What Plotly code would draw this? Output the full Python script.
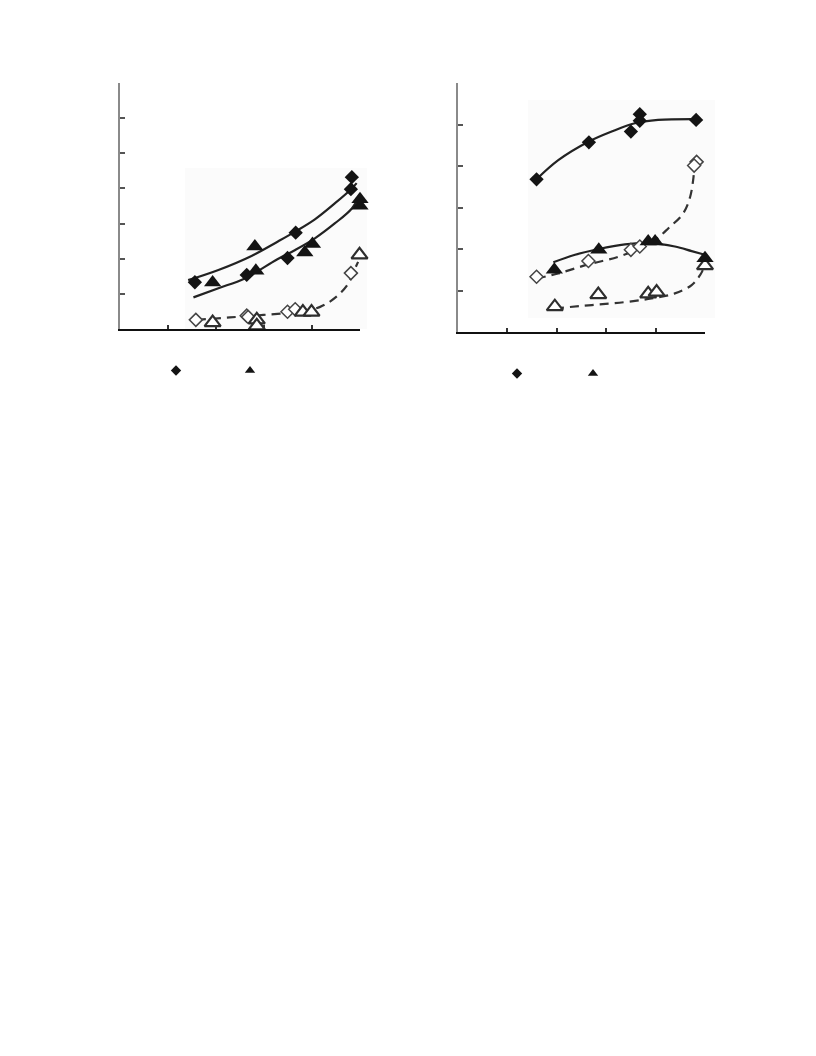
import plotly.graph_objects as go

# ---------------- Panel 1 data ----------------
p1_fd_x = [1.56, 2.64, 3.49, 3.66, 4.81, 4.83]
p1_fd_y = [1.33, 1.54, 2.02, 2.74, 3.98, 4.32]
p1_ft_x = [1.93, 2.81, 2.83, 3.85, 4.01, 5.00, 5.00]
p1_ft_y = [1.32, 2.35, 1.66, 2.18, 2.42, 3.69, 3.51]
p1_od_x = [1.58, 2.64, 2.67, 3.49, 3.65, 4.81]
p1_od_y = [0.26, 0.38, 0.34, 0.49, 0.56, 1.59]
p1_ot_x = [1.93, 2.85, 2.85, 3.81, 3.99, 4.99]
p1_ot_y = [0.18, 0.26, 0.09, 0.48, 0.48, 2.11]

p1_fit_d_x = [1.42, 2.05, 2.74, 3.29, 3.65, 4.06, 4.48, 4.83, 4.93]
p1_fit_d_y = [1.39, 1.68, 2.08, 2.49, 2.77, 3.12, 3.58, 4.00, 4.15]
p1_fit_t_x = [1.53, 2.05, 2.60, 3.27, 3.65, 4.06, 4.48, 4.83, 5.00]
p1_fit_t_y = [0.90, 1.16, 1.44, 1.98, 2.25, 2.58, 3.01, 3.43, 3.82]
p1_fit_o_x = [1.60, 2.29, 2.99, 3.68, 4.17, 4.51, 4.76, 4.90, 4.96]
p1_fit_o_y = [0.26, 0.33, 0.40, 0.49, 0.63, 0.92, 1.30, 1.73, 1.91]

# ---------------- Panel 2 data ----------------
p2_fd_x = [1.59, 2.65, 3.50, 3.68, 3.68, 4.82]
p2_fd_y = [3.68, 4.57, 4.83, 5.25, 5.09, 5.11]
p2_ft_x = [1.95, 2.85, 3.85, 3.99, 5.00]
p2_ft_y = [1.50, 1.98, 2.18, 2.18, 1.78]
p2_od_x = [1.59, 2.64, 3.50, 3.68, 4.83, 4.78]
p2_od_y = [1.33, 1.71, 1.98, 2.06, 4.10, 4.01]
p2_ot_x = [1.96, 2.84, 3.85, 4.02, 5.00]
p2_ot_y = [0.61, 0.90, 0.92, 0.96, 1.60]

p2_fit_d_x = [1.59, 2.03, 2.65, 3.11, 3.58, 4.05, 4.83]
p2_fit_d_y = [3.68, 4.14, 4.59, 4.83, 5.03, 5.11, 5.13]
p2_fit_t_x = [1.93, 2.37, 2.85, 3.38, 3.85, 4.39, 4.73, 5.00]
p2_fit_t_y = [1.68, 1.86, 2.00, 2.11, 2.14, 2.06, 1.95, 1.86]
p2_fit_od_x = [1.59, 2.03, 2.64, 3.24, 3.68, 3.99, 4.26, 4.56, 4.70, 4.76, 4.78]
p2_fit_od_y = [1.29, 1.41, 1.63, 1.81, 2.02, 2.22, 2.50, 2.86, 3.26, 3.66, 3.90]
p2_fit_ot_x = [1.96, 2.71, 3.38, 3.92, 4.39, 4.73, 4.90, 4.97]
p2_fit_ot_y = [0.57, 0.65, 0.72, 0.81, 0.93, 1.13, 1.37, 1.53]

LEGEND_NAMES = ["\u00a0", "\u00a0"]

fig = go.Figure()

SOLID = dict(color="#222222", width=2.2)
DASH = dict(color="#333333", width=2.2, dash="9px,6px")


def add_panel(xa, ya, fdx, fdy, ftx, fty, odx, ody, otx, oty, lines, legend):
    for (lx, ly, style) in lines:
        fig.add_trace(go.Scatter(x=lx, y=ly, mode="lines", line=style,
                                 line_shape="spline", xaxis=xa, yaxis=ya,
                                 showlegend=False, hoverinfo="skip"))
    fig.add_trace(go.Scatter(x=odx, y=ody, mode="markers", xaxis=xa, yaxis=ya,
                             marker=dict(symbol="diamond", size=10, color="white",
                                         line=dict(color="#444444", width=1.5)),
                             cliponaxis=False, showlegend=False))
    fig.add_trace(go.Scatter(x=otx, y=oty, mode="markers", xaxis=xa, yaxis=ya,
                             marker=dict(symbol="triangle-up", size=14, color="white",
                                         line=dict(color="#2e2e2e", width=2.2)),
                             cliponaxis=False, showlegend=False))
    fig.add_trace(go.Scatter(x=fdx, y=fdy, mode="markers", xaxis=xa, yaxis=ya,
                             marker=dict(symbol="diamond", size=11, color="#141414",
                                         line=dict(width=0)),
                             cliponaxis=False, showlegend=False))
    fig.add_trace(go.Scatter(x=ftx, y=fty, mode="markers", xaxis=xa, yaxis=ya,
                             marker=dict(symbol="triangle-up", size=15, color="#141414",
                                         line=dict(width=0)),
                             cliponaxis=False, showlegend=False))
    # legend entries (legend text absent in reference)
    fig.add_trace(go.Scatter(x=[None], y=[None], mode="markers", xaxis=xa, yaxis=ya,
                             marker=dict(symbol="diamond", size=8, color="#141414"),
                             name=LEGEND_NAMES[0], legend=legend))
    fig.add_trace(go.Scatter(x=[None], y=[None], mode="markers", xaxis=xa, yaxis=ya,
                             marker=dict(symbol="triangle-up", size=9, color="#141414"),
                             name=LEGEND_NAMES[1], legend=legend))


add_panel("x", "y", p1_fd_x, p1_fd_y, p1_ft_x, p1_ft_y, p1_od_x, p1_od_y, p1_ot_x, p1_ot_y,
          [(p1_fit_d_x, p1_fit_d_y, SOLID), (p1_fit_t_x, p1_fit_t_y, SOLID),
           (p1_fit_o_x, p1_fit_o_y, DASH)], "legend")
add_panel("x2", "y2", p2_fd_x, p2_fd_y, p2_ft_x, p2_ft_y, p2_od_x, p2_od_y, p2_ot_x, p2_ot_y,
          [(p2_fit_d_x, p2_fit_d_y, SOLID), (p2_fit_t_x, p2_fit_t_y, SOLID),
           (p2_fit_od_x, p2_fit_od_y, DASH), (p2_fit_ot_x, p2_fit_ot_y, DASH)], "legend2")

# page body has an 8px margin: figure is 800x1040, page coords shifted by 8
OFF = 8
W, H = 816 - 2 * OFF, 1056 - 2 * OFF


def px(v):
    return (v - OFF) / W


def py(v):
    return 1 - (v - OFF) / H


xcommon = dict(showgrid=False, zeroline=False, showticklabels=False, ticks="inside",
               ticklen=4, tickwidth=1.5, tickcolor="#333", showline=True,
               linecolor="#111", linewidth=2, dtick=1, tick0=0)
ycommon = dict(showgrid=False, zeroline=False, showticklabels=False, ticks="inside",
               ticklen=5, tickwidth=1.5, tickcolor="#555", showline=True,
               linecolor="#8a8a8a", linewidth=2, dtick=1, tick0=0)

fig.update_layout(
    width=W, height=H, autosize=False,
    paper_bgcolor="white", plot_bgcolor="rgba(0,0,0,0)",
    margin=dict(l=0, r=0, t=0, b=0),
    xaxis=dict(domain=[px(120), px(360)], range=[0, 5], anchor="y", **xcommon),
    yaxis=dict(domain=[py(329), py(83)], range=[0, 7], anchor="x", **ycommon),
    xaxis2=dict(domain=[px(458), px(705)], range=[0, 5], anchor="y2", **xcommon),
    yaxis2=dict(domain=[py(332), py(83)], range=[0, 6], anchor="x2", **ycommon),
    legend=dict(orientation="h", x=px(156), y=py(356), xanchor="left", yanchor="top",
                bgcolor="rgba(0,0,0,0)", font=dict(size=10),
                entrywidth=29, entrywidthmode="pixels", tracegroupgap=0),
    legend2=dict(orientation="h", x=px(497), y=py(359), xanchor="left", yanchor="top",
                 bgcolor="rgba(0,0,0,0)", font=dict(size=10),
                 entrywidth=31, entrywidthmode="pixels", tracegroupgap=0),
    shapes=[
        dict(type="rect", xref="paper", yref="paper", x0=px(185), x1=px(367),
             y0=py(329), y1=py(168), fillcolor="#fbfbfb", line=dict(width=0), layer="below"),
        dict(type="rect", xref="paper", yref="paper", x0=px(528), x1=px(715),
             y0=py(318), y1=py(100), fillcolor="#fbfbfb", line=dict(width=0), layer="below"),
    ],
)

fig.write_html("out.html")
